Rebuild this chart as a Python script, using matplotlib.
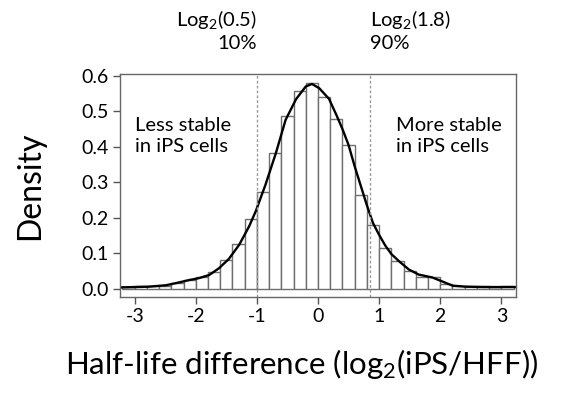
import numpy as np
import matplotlib
matplotlib.use("Agg")
import matplotlib.pyplot as plt

plt.rcParams["font.family"] = ["Lato", "DejaVu Sans"]
plt.rcParams["mathtext.fontset"] = "custom"
plt.rcParams["mathtext.rm"] = "Lato"
plt.rcParams["mathtext.default"] = "regular"
plt.rcParams["axes.unicode_minus"] = False

# histogram of half-life differences, bins of width 0.2 from -3.2 to 3.2
bin_edges = np.round(np.arange(-3.2, 3.21, 0.2), 2)
bin_density = [0.006, 0.008, 0.008, 0.009, 0.016, 0.025, 0.034, 0.046,
               0.082, 0.125, 0.196, 0.272, 0.382, 0.487, 0.558, 0.581,
               0.541, 0.477, 0.406, 0.263, 0.180, 0.115, 0.078, 0.049,
               0.033, 0.033, 0.014, 0.007, 0.009, 0.007, 0.005, 0.007]

# smoothed density curve
curve_x = [-3.24, -2.77, -2.49, -2.30, -2.10, -1.95, -1.78, -1.62, -1.46,
           -1.29, -1.13, -1.02, -0.86, -0.69, -0.53, -0.36, -0.20, -0.10,
           0.02, 0.18, 0.30, 0.40, 0.50, 0.60, 0.70, 0.80, 0.90, 1.00,
           1.10, 1.20, 1.33, 1.49, 1.65, 1.87, 2.03, 2.20, 2.42, 2.69,
           2.96, 3.24]
curve_y = [0.004, 0.006, 0.010, 0.017, 0.025, 0.030, 0.039, 0.058, 0.084,
           0.124, 0.175, 0.218, 0.293, 0.382, 0.476, 0.534, 0.570, 0.577,
           0.565, 0.535, 0.490, 0.450, 0.405, 0.345, 0.290, 0.235, 0.185,
           0.152, 0.122, 0.098, 0.077, 0.054, 0.040, 0.032, 0.021, 0.009,
           0.006, 0.005, 0.005, 0.005]

cutoffs = [np.log2(0.5), np.log2(1.8)]

fig = plt.figure(figsize=(5.64, 3.93), dpi=100)
ax = fig.add_axes([0.2128, 0.2443, 0.7021, 0.5674])

ax.bar(bin_edges[:-1], bin_density, width=0.2, align="edge",
       facecolor="white", edgecolor="#6e6e6e", linewidth=1.0)
ax.plot(curve_x, curve_y, color="black", linewidth=1.7)
for c in cutoffs:
    ax.axvline(c, color="#999999", linewidth=1.0, linestyle=(0, (2, 1.5)))

ax.set_xlim(-3.24, 3.24)
ax.set_ylim(-0.023, 0.605)
ax.set_xticks([-3, -2, -1, 0, 1, 2, 3])
ax.set_yticks([0.0, 0.1, 0.2, 0.3, 0.4, 0.5, 0.6])
ax.set_yticklabels([f"{v:.1f}" for v in ax.get_yticks()])
ax.tick_params(direction="out", length=5, width=1, color="#555555",
               labelsize=14, pad=3)
for s in ax.spines.values():
    s.set_color("#666666")
    s.set_linewidth(1.0)

ax.set_ylabel("Density", fontsize=23, labelpad=26)
ax.set_xlabel("Half-life difference (log$_2$(iPS/HFF))", fontsize=22.5,
              va="center")
ax.xaxis.set_label_coords(0.46, -0.30)

ax.text(-3.0, 0.43, "Less stable\nin iPS cells", fontsize=14.5,
        ha="left", va="center", linespacing=1.3)
ax.text(1.27, 0.43, "More stable\nin iPS cells", fontsize=14.5,
        ha="left", va="center", linespacing=1.3)

trans = ax.get_xaxis_transform()
ax.text(cutoffs[0], 1.245, "Log$_2$(0.5)", transform=trans, fontsize=14.5,
        ha="right", va="center")
ax.text(cutoffs[0], 1.135, "10%", transform=trans, fontsize=14.5,
        ha="right", va="center")
ax.text(cutoffs[1], 1.245, "Log$_2$(1.8)", transform=trans, fontsize=14.5,
        ha="left", va="center")
ax.text(cutoffs[1], 1.135, "90%", transform=trans, fontsize=14.5,
        ha="left", va="center")

fig.savefig("out.png", dpi=100)
plt.close(fig)
